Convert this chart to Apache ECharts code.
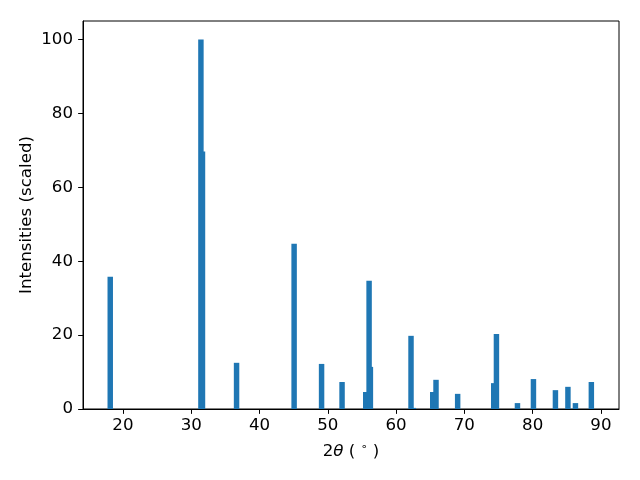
<!DOCTYPE html>
<html>
<head>
<meta charset="utf-8">
<script src="https://cdn.jsdelivr.net/npm/echarts@6/dist/echarts.min.js"></script>
<style>html,body{margin:0;padding:0;background:#fff;}#c{width:640px;height:480px;}</style>
</head>
<body>
<div id="c"></div>
<script>
const twoTheta = [18.14, 31.42, 31.65, 36.64, 45.07, 49.09, 52.09, 55.56, 56.05, 56.24, 62.19, 62.53, 65.37, 65.85, 69.02, 74.30, 74.70, 77.78, 80.12, 83.34, 85.17, 86.27, 88.60];
const intensity = [35.8, 100, 69.7, 12.5, 44.7, 12.2, 7.3, 4.6, 34.7, 11.4, 19.8, 0.3, 4.6, 7.9, 4.1, 7.0, 20.3, 1.6, 8.1, 5.1, 6.0, 1.6, 7.3];
const xTicks = [20, 30, 40, 50, 60, 70, 80, 90];
const yTicks = [0, 20, 40, 60, 80, 100];
const barWidth = 0.8;

const data = twoTheta.map((x, i) => [x, intensity[i]]);
const chart = echarts.init(document.getElementById('c'), null, {renderer: 'canvas'});
const font = 'DejaVu Sans';
const fs = 16.67;
chart.setOption({
  animation: false,
  backgroundColor: '#fff',
  grid: {left: 83, right: 21, top: 21, bottom: 71, show: true, borderColor: '#000', borderWidth: 1, backgroundColor: 'transparent'},
  xAxis: {
    type: 'value', min: 14.15, max: 92.65,
    name: '2{i|θ} ( {s|∘} )', nameLocation: 'middle', nameGap: 33, nameMoveOverlap: false,
    nameTextStyle: {fontFamily: font, fontSize: fs, color: '#000',
      rich: {i: {fontFamily: font, fontStyle: 'italic', fontSize: fs, color: '#000'},
             s: {fontFamily: font, fontSize: 11, color: '#000', verticalAlign: 'top', padding: [0,0,8,0]}}},
    splitLine: {show: false},
    axisLine: {show: true, lineStyle: {color: '#000', width: 1}},
    axisTick: {show: true, length: 4.86, customValues: xTicks, lineStyle: {color: '#000'}},
    axisLabel: {customValues: xTicks, fontFamily: font, fontSize: fs, color: '#000', margin: 8}
  },
  yAxis: {
    type: 'value', min: 0, max: 105,
    name: 'Intensities (scaled)', nameLocation: 'middle', nameGap: 48, nameMoveOverlap: false,
    nameTextStyle: {fontFamily: font, fontSize: fs, color: '#000'},
    splitLine: {show: false},
    axisLine: {show: true, lineStyle: {color: '#000', width: 1}},
    axisTick: {show: true, length: 4.86, customValues: yTicks, lineStyle: {color: '#000'}},
    axisLabel: {customValues: yTicks, fontFamily: font, fontSize: fs, color: '#000', margin: 10}
  },
  series: [{
    type: 'custom',
    data: data,
    renderItem: function (params, api) {
      const x = api.value(0), y = api.value(1);
      const p0 = api.coord([x - barWidth / 2, y]);
      const p1 = api.coord([x + barWidth / 2, 0]);
      return {type: 'rect', shape: {x: p0[0], y: p0[1], width: p1[0] - p0[0], height: p1[1] - p0[1]},
        style: {fill: '#1f77b4'}};
    }
  }]
});
</script>
</body>
</html>
